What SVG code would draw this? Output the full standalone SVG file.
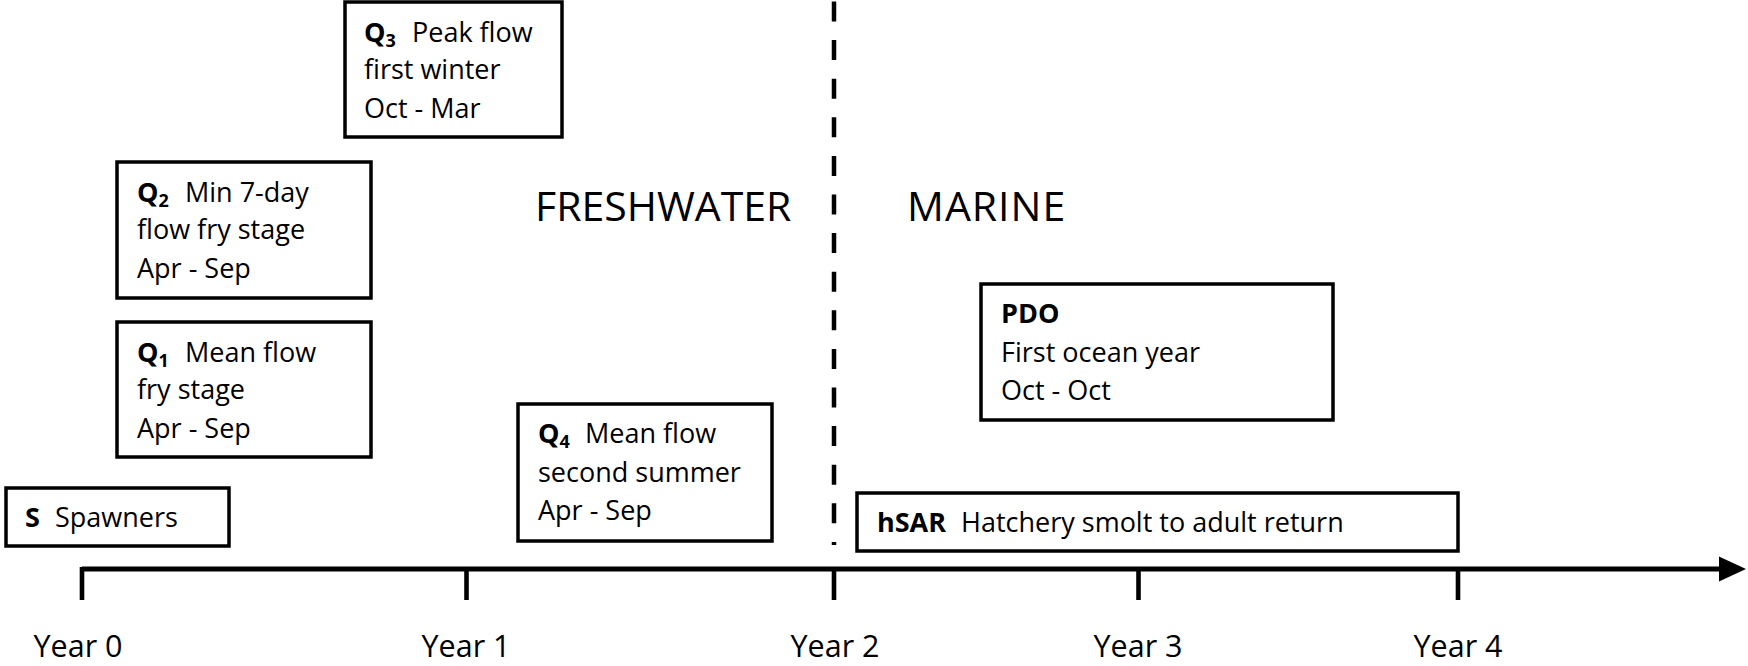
<svg xmlns="http://www.w3.org/2000/svg" width="1748" height="666" viewBox="0 0 1748 666">
<style>
.box{fill:#fff;stroke:#000;stroke-width:3.5}
.t{font-family:"Open Sans","Noto Sans","Liberation Sans",sans-serif;font-size:27px;fill:#000}
.b{font-weight:bold}
.sub{font-family:"Open Sans","Noto Sans","Liberation Sans",sans-serif;font-size:18px;font-weight:bold;fill:#000}
.yr{font-family:"Open Sans","Noto Sans","Liberation Sans",sans-serif;font-size:30.5px;fill:#000;text-anchor:middle}
.big{font-family:"Open Sans","Noto Sans","Liberation Sans",sans-serif;font-size:41px;fill:#000}
.ax{stroke:#000;stroke-width:5;fill:none}
.tick{stroke:#000;stroke-width:4.6;fill:none}
</style>
<rect width="1748" height="666" fill="#fff"/>
<g id="connectors">
  <line class="ax" x1="82" y1="569" x2="1722" y2="569"/>
  <polygon points="1719,556.5 1746,569 1719,581.5" fill="#000"/>
  <line class="tick" x1="82" y1="567" x2="82" y2="600"/>
  <line class="tick" x1="466.5" y1="567" x2="466.5" y2="600"/>
  <line class="tick" x1="834" y1="567" x2="834" y2="600"/>
  <line class="tick" x1="1138.5" y1="567" x2="1138.5" y2="600"/>
  <line class="tick" x1="1458" y1="567" x2="1458" y2="600"/>
  <line x1="834" y1="1.5" x2="834" y2="545" stroke="#000" stroke-width="4.5" stroke-dasharray="20 18.6"/>
</g>
<g id="axis-labels">
  <text class="yr" x="78" y="657">Year 0</text>
  <text class="yr" x="466" y="657">Year 1</text>
  <text class="yr" x="835" y="657">Year 2</text>
  <text class="yr" x="1138" y="657">Year 3</text>
  <text class="yr" x="1458" y="657">Year 4</text>
</g>
<g id="region-labels">
  <text class="big" x="535" y="221">FRESHWATER</text>
  <text class="big" x="907" y="221" letter-spacing="1">MARINE</text>
</g>
<g id="node-S">
  <rect class="box" x="6" y="488" width="223" height="58"/>
  <text class="t b" x="25" y="527">S</text>
  <text class="t" x="55" y="527">Spawners</text>
</g>
<g id="node-Q1">
  <rect class="box" x="117" y="322" width="254" height="135"/>
  <text class="t b" x="137" y="362">Q</text>
  <text class="sub" x="158.5" y="367">1</text>
  <text class="t" x="185" y="362">Mean flow</text>
  <text class="t" x="137" y="399">fry stage</text>
  <text class="t" x="137" y="438">Apr - Sep</text>
</g>
<g id="node-Q2">
  <rect class="box" x="117" y="162" width="254" height="136"/>
  <text class="t b" x="137" y="202">Q</text>
  <text class="sub" x="158.5" y="207">2</text>
  <text class="t" x="185" y="202">Min 7-day</text>
  <text class="t" x="137" y="239">flow fry stage</text>
  <text class="t" x="137" y="278">Apr - Sep</text>
</g>
<g id="node-Q3">
  <rect class="box" x="345" y="2" width="217" height="135"/>
  <text class="t b" x="364" y="42">Q</text>
  <text class="sub" x="385.5" y="47">3</text>
  <text class="t" x="412" y="42">Peak flow</text>
  <text class="t" x="364" y="79">first winter</text>
  <text class="t" x="364" y="118">Oct - Mar</text>
</g>
<g id="node-Q4">
  <rect class="box" x="518" y="404" width="254" height="137"/>
  <text class="t b" x="538" y="443">Q</text>
  <text class="sub" x="559.5" y="448">4</text>
  <text class="t" x="585" y="443">Mean flow</text>
  <text class="t" x="538" y="482">second summer</text>
  <text class="t" x="538" y="520">Apr - Sep</text>
</g>
<g id="node-PDO">
  <rect class="box" x="981" y="284" width="352" height="136"/>
  <text class="t b" x="1001" y="323">PDO</text>
  <text class="t" x="1001" y="362">First ocean year</text>
  <text class="t" x="1001" y="400">Oct - Oct</text>
</g>
<g id="node-hSAR">
  <rect class="box" x="857" y="493" width="601" height="58"/>
  <text class="t b" x="877" y="532">hSAR</text>
  <text class="t" x="961" y="532">Hatchery smolt to adult return</text>
</g>
</svg>
